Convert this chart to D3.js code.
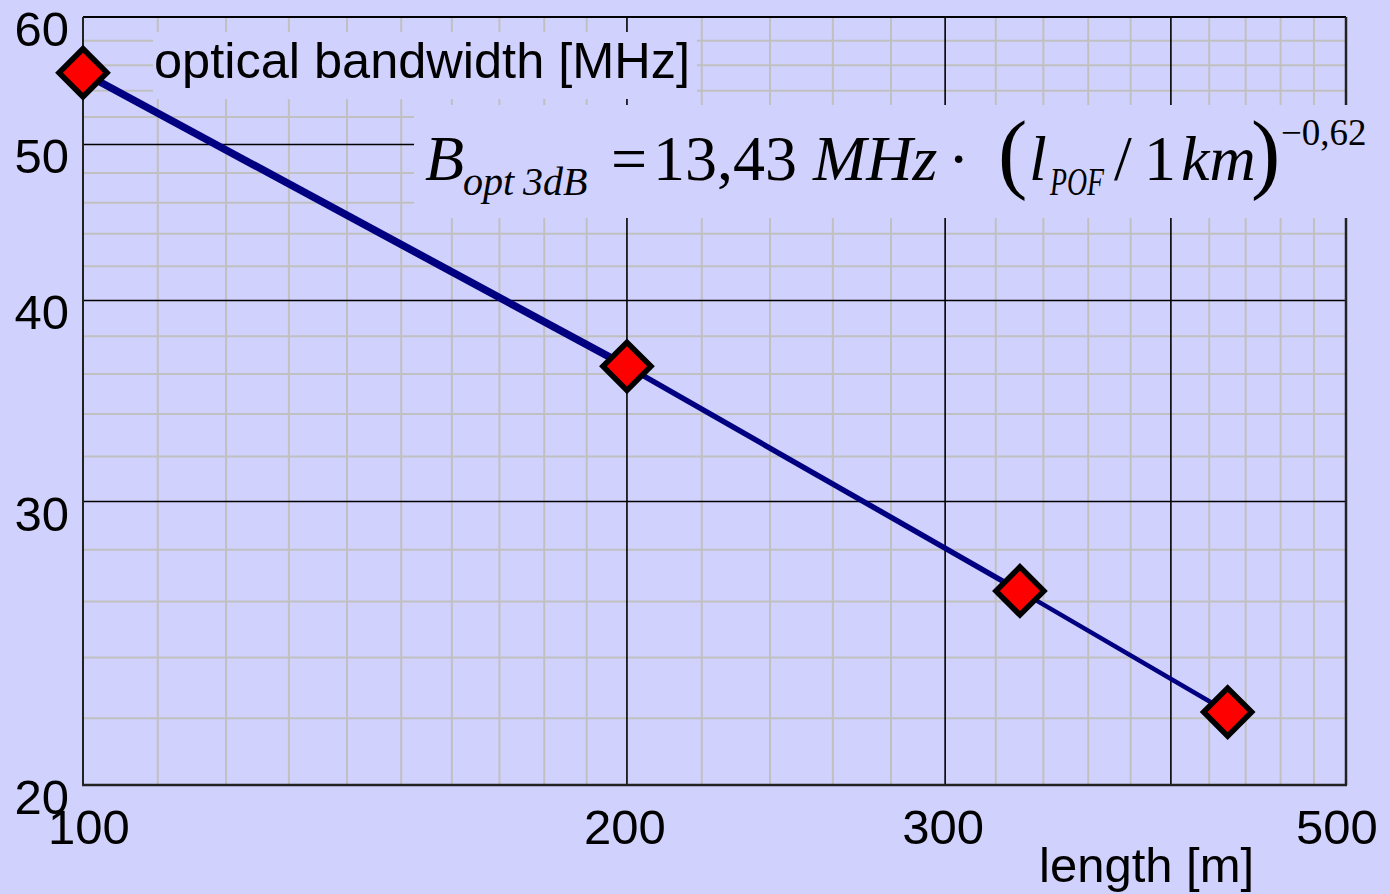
<!DOCTYPE html>
<html lang="en">
<head>
<meta charset="UTF-8">
<title>Optical bandwidth vs length</title>
<script src="https://d3js.org/d3.v7.min.js"></script>
<style>
  html, body { margin: 0; padding: 0; background: #d1d1fd; }
  svg { display: block; }
  .tick-label { font-family: "Liberation Sans", Arial, sans-serif; font-size: 49px; fill: #000; }
  .formula { font-family: "Liberation Serif", "Times New Roman", serif; fill: #000; }
</style>
</head>
<body>
<svg width="1390" height="894"></svg>
<script>
  // data
  const lengths = [100, 200, 330, 430];          // fibre length [m]
  const bandwidth = [55.4, 36.4, 26.4, 22.2];    // optical bandwidth [MHz]

  const xLabels = [100, 200, 300, 500];
  const yLabels = [20, 30, 40, 50, 60];
  const xMajor = [200, 300, 400];
  const yMajor = [30, 40, 50];
  const xMinor = [110, 120, 130, 140, 150, 160, 170, 180, 190,
                  220, 240, 260, 280, 320, 340, 360, 380, 420, 440, 460, 480];
  const yMinor = [22, 24, 26, 28, 32, 34, 36, 38, 42, 44, 46, 48, 52, 54, 56, 58];

  const bg = "#d1d1fd";
  const svg = d3.select("svg");

  svg.append("rect").attr("width", 1390).attr("height", 894).attr("fill", bg);

  // log-log scales
  const x = d3.scaleLog().domain([100, 500]).range([83, 1346]);
  const y = d3.scaleLog().domain([20, 60]).range([785, 17]);

  const grid = svg.append("g");

  // minor grid
  grid.selectAll(".vminor").data(xMinor).enter().append("line")
      .attr("x1", d => x(d)).attr("x2", d => x(d))
      .attr("y1", y(60)).attr("y2", y(20))
      .attr("stroke", "#c0c0c0").attr("stroke-width", 2);
  grid.selectAll(".hminor").data(yMinor).enter().append("line")
      .attr("x1", x(100)).attr("x2", x(500))
      .attr("y1", d => y(d)).attr("y2", d => y(d))
      .attr("stroke", "#c0c0c0").attr("stroke-width", 2);

  // major grid
  grid.selectAll(".vmajor").data(xMajor).enter().append("line")
      .attr("x1", d => x(d)).attr("x2", d => x(d))
      .attr("y1", y(60)).attr("y2", y(20))
      .attr("stroke", "#000").attr("stroke-width", 1.6);
  grid.selectAll(".hmajor").data(yMajor).enter().append("line")
      .attr("x1", x(100)).attr("x2", x(500))
      .attr("y1", d => y(d)).attr("y2", d => y(d))
      .attr("stroke", "#000").attr("stroke-width", 1.6);

  // frame
  grid.append("line").attr("x1", x(100)).attr("x2", x(500)).attr("y1", y(60)).attr("y2", y(60))
      .attr("stroke", "#000").attr("stroke-width", 2);
  grid.append("line").attr("x1", x(500)).attr("x2", x(500)).attr("y1", y(60)).attr("y2", y(20))
      .attr("stroke", "#222").attr("stroke-width", 2.5);
  grid.append("line").attr("x1", x(100)).attr("x2", x(100)).attr("y1", y(60)).attr("y2", y(20))
      .attr("stroke", "#222").attr("stroke-width", 2);
  grid.append("line").attr("x1", x(100) - 1).attr("x2", x(500) + 1).attr("y1", y(20)).attr("y2", y(20))
      .attr("stroke", "#222").attr("stroke-width", 2.5);

  // boxes behind the legend text and the formula hide the grid
  svg.append("rect").attr("x", 153).attr("y", 32).attr("width", 544).attr("height", 67).attr("fill", bg);
  svg.append("rect").attr("x", 414).attr("y", 105).attr("width", 976).attr("height", 113).attr("fill", bg);

  // line, drawn segment by segment (first segment is heavier)
  const pts = lengths.map((l, i) => [l, bandwidth[i]]);
  const segWidth = [7.5, 5.5, 4.5];
  svg.selectAll(".seg").data(d3.pairs(pts)).enter().append("line")
      .attr("x1", d => x(d[0][0])).attr("y1", d => y(d[0][1]))
      .attr("x2", d => x(d[1][0])).attr("y2", d => y(d[1][1]))
      .attr("stroke", "#000080")
      .attr("stroke-width", (d, i) => segWidth[i]);

  // diamond markers
  const diamond = d3.symbol().type(d3.symbolSquare).size(1152);
  svg.selectAll(".pt").data(pts).enter().append("path")
      .attr("d", diamond)
      .attr("transform", d => `translate(${x(d[0])},${y(d[1])}) rotate(45)`)
      .attr("fill", "#ff0000")
      .attr("stroke", "#000")
      .attr("stroke-width", 5.5)
      .attr("stroke-linejoin", "miter");

  // tick labels
  svg.selectAll(".ylab").data(yLabels).enter().append("text")
      .attr("class", "tick-label")
      .attr("x", 69)
      .attr("y", d => y(d) + 29)
      .attr("text-anchor", "end")
      .text(d => d);

  const xShift = [6, -2, -2, -9];
  svg.selectAll(".xlab").data(xLabels).enter().append("text")
      .attr("class", "tick-label")
      .attr("x", (d, i) => x(d) + xShift[i])
      .attr("y", 844)
      .attr("text-anchor", "middle")
      .text(d => d);

  svg.append("text")
      .attr("class", "tick-label")
      .attr("x", 1039)
      .attr("y", 882)
      .text("length [m]");

  svg.append("text")
      .attr("class", "tick-label")
      .attr("x", 154)
      .attr("y", 78)
      .style("font-size", "50.5px")
      .text("optical bandwidth [MHz]");

  // formula B_opt 3dB = 13,43 MHz · (l_POF / 1 km)^-0,62
  const f = svg.append("g").attr("class", "formula");
  const piece = (txt, px, py, size, italic, len) => {
    const t = f.append("text").attr("x", px).attr("y", py)
      .style("font-size", size + "px")
      .style("font-style", italic ? "italic" : "normal")
      .text(txt);
    if (len) t.attr("textLength", len).attr("lengthAdjust", "spacingAndGlyphs");
    return t;
  };

  piece("B", 425, 180, 64, true);
  piece("opt", 463, 195, 40, true);
  piece("3dB", 523, 195, 40, true);
  piece("=", 611, 180, 64, false);
  piece("13,43", 653, 180, 64, false);
  piece("MHz", 813, 180, 64, true);
  piece("\u00b7", 948, 180, 64, false);
  piece("(", 998, 182, 88, false);
  piece("l", 1029, 180, 64, true);
  piece("POF", 1050, 195, 40, true, 54);
  piece("/", 1114, 180, 64, false);
  piece("1", 1144, 180, 64, false);
  piece("km", 1181, 180, 64, true);
  piece(")", 1251, 182, 88, false);
  piece("\u22120,62", 1281, 145, 37, false);
</script>
</body>
</html>
